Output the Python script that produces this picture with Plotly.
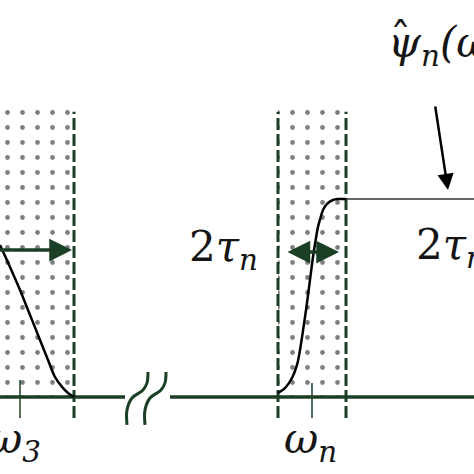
import plotly.graph_objects as go

GREEN = "#1b3f24"

# frequency axis in drawing units (pixels across), amplitude axis: 0 = baseline, 1 = plateau
left_curve_x = [0, 10, 20, 30, 40, 48, 55, 62, 68, 74]
left_curve_y = [0.768, 0.657, 0.540, 0.414, 0.288, 0.187, 0.101, 0.051, 0.020, 0.0]

mid_curve_x = [278, 285, 292, 297, 300, 304, 307, 310, 313, 316, 318, 321, 323, 327, 333, 338, 343, 346]
mid_curve_y = [0.020, 0.045, 0.096, 0.162, 0.237, 0.369, 0.475, 0.591, 0.707, 0.803,
               0.859, 0.914, 0.944, 0.975, 0.995, 1.0, 1.0, 1.0]

plateau_x = [346, 474]
plateau_y = [1.0, 1.0]

band_left = [-5, 74]
band_mid = [278, 346]
band_left_top = 1.485
band_mid_top = 1.449

dashed_x = [74, 278, 346]
dashed_y = [-0.106, 1.44]

tick_x = [20, 312]
tick_top = [0.086, 0.071]
tick_labels = ["ω<sub>3</sub>", "ω<sub>n</sub>"]
tick_label_x = [14, 310]

baseline_segments = [[-5, 125], [170, 480]]

break1_x = [127, 127, 132, 143, 147, 148]
break_y = [-0.141, -0.066, -0.005, 0.035, 0.071, 0.126]
break2_x = [145, 145, 150, 161, 165, 166]

fig = go.Figure()

# dotted transition bands
for (x0, x1), top in [(band_left, band_left_top), (band_mid, band_mid_top)]:
    fig.add_trace(go.Scatter(
        x = [x0, x1, x1, x0, x0],
        y = [0, 0, top, top, 0],
        mode = "lines",
        fill = "toself",
        fillcolor = "white",
        line = dict(width = 0),
        fillpattern = dict(shape = ".", size = 15, solidity = 0.08,
                           fgcolor = "black", bgcolor = "white"),
        hoverinfo = "skip"
    ))

# dashed band edges
for xd in dashed_x:
    fig.add_trace(go.Scatter(
        x = [xd, xd], y = dashed_y, mode = "lines",
        line = dict(color = GREEN, width = 3, dash = "12px,4px")
    ))

# baseline with break
for seg in baseline_segments:
    fig.add_trace(go.Scatter(
        x = seg, y = [0, 0], mode = "lines",
        line = dict(color = GREEN, width = 3.5)
    ))
for bx in [break1_x, break2_x]:
    fig.add_trace(go.Scatter(
        x = bx, y = break_y, mode = "lines",
        line = dict(color = GREEN, width = 3, shape = "spline")
    ))

# centre frequency ticks
for tx, tt in zip(tick_x, tick_top):
    fig.add_trace(go.Scatter(
        x = [tx, tx], y = [-0.106, tt], mode = "lines",
        line = dict(color = GREEN, width = 1.5)
    ))

# filter curves
fig.add_trace(go.Scatter(
    x = left_curve_x, y = left_curve_y, mode = "lines",
    line = dict(color = "black", width = 2.5, shape = "spline")
))
fig.add_trace(go.Scatter(
    x = mid_curve_x, y = mid_curve_y, mode = "lines",
    line = dict(color = "black", width = 2.5, shape = "spline")
))
fig.add_trace(go.Scatter(
    x = plateau_x, y = plateau_y, mode = "lines",
    line = dict(color = "#333333", width = 1.5)
))

serif = dict(family = "DejaVu Serif", size = 42, color = "#151515")

# arrows
fig.add_annotation(x = 72, y = 0.742, ax = -2, ay = 0.742, axref = "x", ayref = "y",
                   text = "", showarrow = True, arrowhead = 2, arrowsize = 1.3,
                   arrowwidth = 3.5, arrowcolor = GREEN)
fig.add_annotation(x = 339, y = 0.732, ax = 286, ay = 0.732, axref = "x", ayref = "y",
                   text = "", showarrow = True, arrowhead = 2, arrowsize = 1.3,
                   arrowside = "end+start", arrowwidth = 3.5, arrowcolor = GREEN)
fig.add_annotation(x = 448, y = 1.045, ax = 435, ay = 1.475, axref = "x", ayref = "y",
                   text = "", showarrow = True, arrowhead = 2, arrowsize = 1.3,
                   arrowwidth = 2.5, arrowcolor = "black")

# labels
fig.add_annotation(x = 223, y = 0.745, text = "2<i>τ<sub>n</sub></i>",
                   showarrow = False, font = serif)
fig.add_annotation(x = 414, y = 0.755, text = "2<i>τ<sub>n</sub></i>",
                   xanchor = "left", showarrow = False, font = serif)
for lx, lt in zip(tick_label_x, tick_labels):
    fig.add_annotation(x = lx, y = -0.225, text = "<i>" + lt + "</i>",
                       showarrow = False, font = serif)
fig.add_annotation(x = 386, y = 1.775, text = "<i>ψ<sub>n</sub>(ω</i>",
                   xanchor = "left", showarrow = False, font = serif)
fig.add_annotation(x = 400, y = 1.805, text = "ˆ",
                   showarrow = False, font = serif)

fig.update_layout(
    width = 474,
    height = 474,
    margin = dict(l = 0, r = 0, t = 0, b = 0),
    showlegend = False,
    plot_bgcolor = "white",
    paper_bgcolor = "white",
    xaxis = dict(range = [0, 474], visible = False, fixedrange = True),
    yaxis = dict(range = [-0.389, 2.005], visible = False, fixedrange = True)
)

fig.write_html("out.html", config = {"displayModeBar": False},
               post_script = "document.body.style.margin = '0px';")
